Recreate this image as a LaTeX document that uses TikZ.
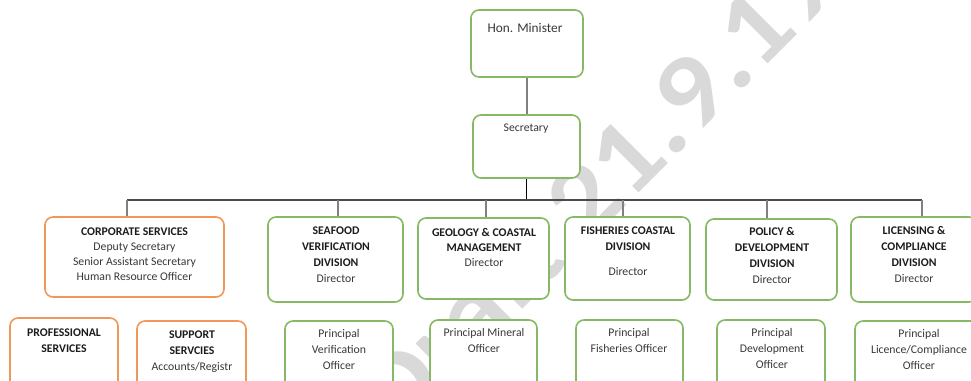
\documentclass[tikz,border=0pt]{standalone}
\usepackage{fontspec}
\setmainfont{Carlito}
\usetikzlibrary{fit}

\definecolor{boxgreen}{HTML}{70AD47}
\definecolor{boxorange}{HTML}{ED7D31}
\definecolor{inktext}{HTML}{383838}
\definecolor{inkbold}{HTML}{1C1C1C}
\definecolor{wmark}{HTML}{D9D9D9}
\definecolor{linkgray}{HTML}{808080}
\definecolor{busgray}{HTML}{4A4A4A}

\tikzset{
  px/.style={x=0.75pt,y=-0.75pt},
  orgbox/.style={draw, fill=white, rounded corners=6pt, line width=1.2pt, inner sep=0pt},
  greenbox/.style={orgbox, draw=boxgreen!85!white},
  orangebox/.style={orgbox, draw=boxorange!80!white},
  lbl/.style={anchor=north, inner sep=0pt, align=center, text=inktext,
              font=\fontsize{8.8}{12}\selectfont},
  tight/.style={font=\fontsize{8.8}{11.25}\selectfont},
  link/.style={draw=linkgray, line width=0.8pt},
  bus/.style={draw=busgray, line width=0.8pt},
}
\newcommand{\hd}[1]{\textbf{\color{inkbold}#1}}

\begin{document}
\begin{tikzpicture}[px]
\useasboundingbox (0,0) rectangle (971,381);
\clip (0,0) rectangle (971,381);

% draft watermark behind the chart
\node[rotate=45, anchor=base west, inner sep=0pt, text=wmark,
      font=\fontsize{78.75}{80}\selectfont\bfseries] (watermark) at (395.1,436.9)
      {\scalebox{1.12}[1]{Draft 21.9.19}};

% top of the hierarchy
\node[greenbox, fit={(471,10) (583,77)}] (minister) {};
\node[greenbox, fit={(473,115) (580,178)}] (secretary) {};

% divisions
\node[orangebox, fit={(45,217) (224,297)}] (corp) {};
\node[greenbox, fit={(268,217) (403,302)}] (seafood) {};
\node[greenbox, fit={(418,218) (549,299)}] (geology) {};
\node[greenbox, fit={(565,217) (690,300)}] (fisheries) {};
\node[greenbox, fit={(706,219) (837,300)}] (policy) {};
\node[greenbox, fit={(851,217) (977,302)}] (licensing) {};

% units and principal officers
\node[orangebox, fit={(10,318) (118,400)}] (prof) {};
\node[orangebox, fit={(137,321) (246,400)}] (support) {};
\node[greenbox, fit={(285,321) (393,400)}] (pverif) {};
\node[greenbox, fit={(430,320) (537,400)}] (pmineral) {};
\node[greenbox, fit={(576,320) (683,400)}] (pfish) {};
\node[greenbox, fit={(717,320) (825,400)}] (pdev) {};
\node[greenbox, fit={(855,321) (983,400)}] (plic) {};

% labels
\node[lbl, font=\fontsize{10}{12}\selectfont] (t-minister) at (525,21.1) {\strut Hon. Minister};
\node[lbl] (t-secretary) at (526,120.5) {\strut Secretary};

\node[lbl, tight] (t-corp) at (134.5,224.25)
  {\strut\hd{CORPORATE SERVICES}\\Deputy Secretary\\Senior Assistant Secretary\\Human Resource Officer};
\node[lbl] (t-seafood) at (336,223.5)
  {\strut\hd{SEAFOOD}\\\hd{VERIFICATION}\\\hd{DIVISION}\\Director};
\node[lbl, tight] (t-geology) at (484,225.25)
  {\strut\hd{GEOLOGY \& COASTAL}\\\hd{MANAGEMENT}\\Director};
\node[lbl] (t-fisheries) at (628,223.5)
  {\strut\hd{FISHERIES COASTAL}\\\hd{DIVISION}\\[6.75pt]Director};
\node[lbl] (t-policy) at (772,224.5)
  {\strut\hd{POLICY \&}\\\hd{DEVELOPMENT}\\\hd{DIVISION}\\Director};
\node[lbl] (t-licensing) at (914,223.5)
  {\strut\hd{LICENSING \&}\\\hd{COMPLIANCE}\\\hd{DIVISION}\\Director};

\node[lbl] (t-prof) at (64,325.5) {\strut\hd{PROFESSIONAL}\\\hd{SERVICES}};
\node[lbl] (t-support) at (192,327.5) {\strut\hd{SUPPORT}\\\hd{SERVCIES}\\Accounts/Registr};
\node[lbl] (t-pverif) at (339,326.5) {\strut Principal\\Verification\\Officer};
\node[lbl] (t-pmineral) at (484,325.5) {\strut Principal Mineral\\Officer};
\node[lbl] (t-pfish) at (629,325.5) {\strut Principal\\Fisheries Officer};
\node[lbl] (t-pdev) at (772,325.5) {\strut Principal\\Development\\Officer};
\node[lbl] (t-plic) at (919,326.5) {\strut Principal\\Licence/Compliance\\Officer};

% connectors
\coordinate (drop-corp) at (127,200);
\coordinate (drop-seafood) at (338,200);
\coordinate (drop-geology) at (486,200);
\coordinate (drop-fisheries) at (623,200);
\coordinate (drop-policy) at (767,200);
\coordinate (drop-licensing) at (922,200);

\draw[link, line width=1pt] (minister.south) -- (minister.south |- secretary.north);
\draw[bus, draw=black] (secretary.south) -- (secretary.south |- drop-corp);
\draw[bus] (drop-corp) -- (drop-licensing);
\draw[link] (drop-corp) -- (drop-corp |- corp.north);
\draw[link] (drop-seafood) -- (drop-seafood |- seafood.north);
\draw[link] (drop-geology) -- (drop-geology |- geology.north);
\draw[link] (drop-fisheries) -- (drop-fisheries |- fisheries.north);
\draw[link] (drop-policy) -- (drop-policy |- policy.north);
\draw[link] (drop-licensing) -- (drop-licensing |- licensing.north);
\end{tikzpicture}
\end{document}
